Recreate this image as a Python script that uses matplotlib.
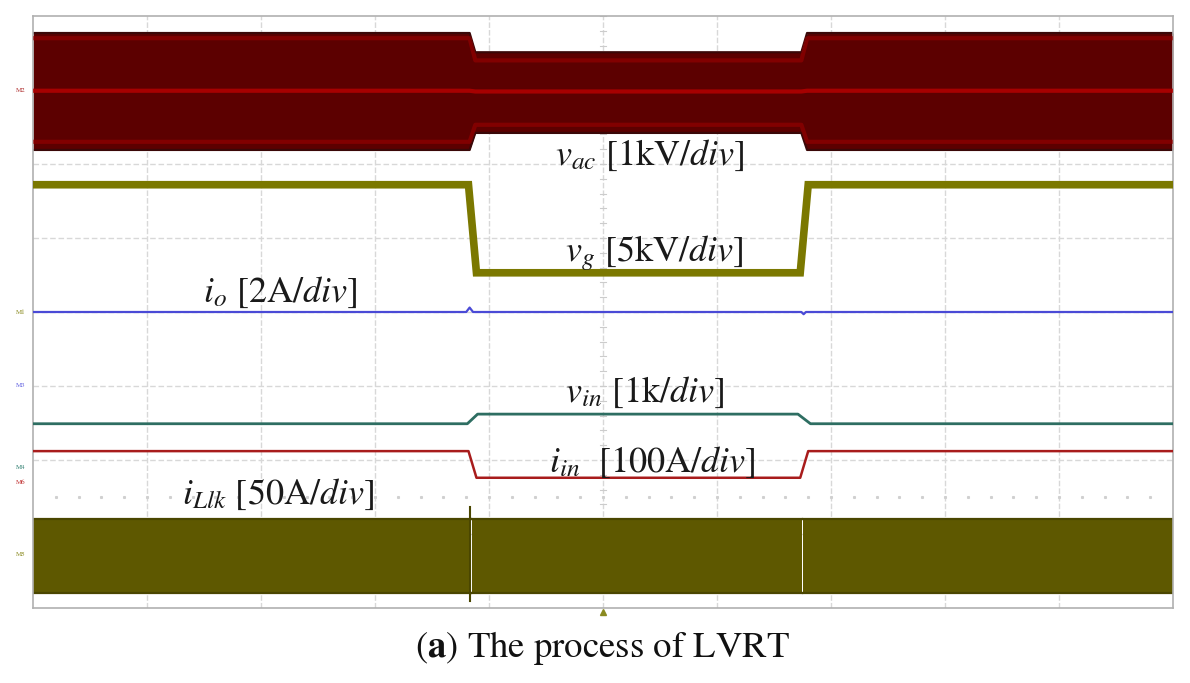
import matplotlib
matplotlib.use("Agg")
import matplotlib.pyplot as plt
import numpy as np

plt.rcParams['mathtext.fontset'] = 'stix'
plt.rcParams['font.family'] = ['STIXGeneral', 'DejaVu Serif']

# ---- data (time in divisions, amplitude in divisions) ----
t_vac = [0, 3.83, 3.88, 6.74, 6.79, 10]
vac_upper = [3.77, 3.77, 3.51, 3.51, 3.77, 3.77]
vac_lower = [2.19, 2.19, 2.42, 2.42, 2.19, 2.19]
vac_center = [2.99, 2.99, 2.98, 2.98, 2.99, 2.99]
vac_inner_top = [3.70, 3.70, 3.40, 3.40, 3.70, 3.70]
vac_inner_bot = [2.30, 2.30, 2.53, 2.53, 2.30, 2.30]

t_vg = [0, 3.82, 3.89, 6.73, 6.80, 10]
vg = [1.72, 1.72, 0.53, 0.53, 1.72, 1.72]

t_io = [0, 3.80, 3.83, 3.86, 6.74, 6.76, 6.78, 10]
io = [0, 0, 0.06, 0, 0, -0.03, 0, 0]

t_vin = [0, 3.81, 3.90, 6.71, 6.82, 10]
vin = [-1.51, -1.51, -1.38, -1.38, -1.51, -1.51]

t_iin = [0, 3.82, 3.89, 6.73, 6.80, 10]
iin = [-1.88, -1.88, -2.24, -2.24, -1.88, -1.88]

t_llk_segments = [(0, 3.845), (3.855, 6.745), (6.755, 10)]
llk_upper = -2.80
llk_lower = -3.80
llk_spike_t = 3.83
llk_spike = (-3.90, -2.64)

labels = [
    (r"$v_{ac}$ [1kV/$div$]", 5.41, 2.12),
    (r"$v_{g}$ [5kV/$div$]", 5.45, 0.80),
    (r"$i_{o}$ [2A/$div$]", 2.17, 0.27),
    (r"$v_{in}$ [1k/$div$]", 5.37, -1.08),
    (r"$i_{in}$  [100A/$div$]", 5.43, -2.03),
    (r"$i_{Llk}$ [50A/$div$]", 2.15, -2.47),
]
channels = [("M2", 2.99, "#b03030"), ("M1", 0.0, "#8a8a20"), ("M3", -0.99, "#6060e0"),
            ("M4", -2.10, "#2f7f70"), ("M6", -2.30, "#c03030"), ("M5", -3.28, "#8a8a20")]

fig = plt.figure(figsize=(11.9, 6.83), dpi=100)
ax = fig.add_axes([33/1190, 1-608/683, (1173-33)/1190, (608-16)/683])
ax.set_xlim(0, 10)
ax.set_ylim(-4, 4)
ax.set_xticks([]); ax.set_yticks([])
for s in ax.spines.values():
    s.set_color("#b0b0b0"); s.set_linewidth(1.2)

# grid
for gx in range(1, 10):
    ax.axvline(gx, color="#d8d8d8", lw=1.0, ls=(0, (4, 1.5)), zorder=0)
for gy in range(-3, 4):
    ax.axhline(gy, color="#d8d8d8", lw=1.0, ls=(0, (4, 2)), zorder=0)
# centre minor ticks
for m in np.arange(-4, 4.01, 0.2):
    ax.plot([4.97, 5.03], [m, m], color="#cccccc", lw=0.8, zorder=0)
# dotted row
ax.plot(np.arange(0.2, 10, 0.2), [-2.5]*49, ls="none", marker="s", ms=1.2, color="#d0d0d0", zorder=0)

# vac
ax.fill_between(t_vac, vac_lower, vac_upper, color="#5c0000", lw=0, zorder=2)
ax.plot(t_vac, vac_upper, color="#3a0808", lw=1.6, zorder=2)
ax.plot(t_vac, vac_lower, color="#3a0808", lw=1.6, zorder=2)
ax.plot(t_vac, vac_center, color="#b40000", lw=3, alpha=0.85, zorder=3)
ax.plot(t_vac, vac_inner_top, color="#9a0000", lw=3, alpha=0.6, zorder=3)
ax.plot(t_vac, vac_inner_bot, color="#9a0000", lw=3, alpha=0.6, zorder=3)

# vg
ax.plot(t_vg, vg, color="#7b7800", lw=5.5, solid_joinstyle="miter", zorder=3)
# io
ax.plot(t_io, io, color="#4a4ad6", lw=1.6, zorder=3)
# vin
ax.plot(t_vin, vin, color="#2e6e62", lw=2.0, zorder=3)
# iin
ax.plot(t_iin, iin, color="#a81c1c", lw=1.8, zorder=3)

# iLlk
for a, b in t_llk_segments:
    ax.fill_between([a, b], [llk_lower]*2, [llk_upper]*2, color="#5e5800", lw=0, zorder=2)
    ax.plot([a, b], [llk_upper]*2, color="#4a4600", lw=1.6, zorder=2)
    ax.plot([a, b], [llk_lower]*2, color="#4a4600", lw=1.6, zorder=2)
ax.plot([llk_spike_t]*2, llk_spike, color="#4a4600", lw=1.5, zorder=3)

# trigger marker
ax.plot([5], [-4.06], marker="^", ms=5, color="#8a8a20", clip_on=False, zorder=5)

for txt, x, y in labels:
    ax.text(x, y, txt, fontsize=26, ha="center", va="center", color="#1a1a1a", zorder=6)

for name, y, c in channels:
    ax.text(-0.11, y, name, fontsize=5, ha="center", va="center", color=c, clip_on=False)

fig.text(602/1190, 1-648/683, r"($\mathbf{a}$) The process of LVRT", fontsize=26.5,
         ha="center", va="center", color="#111111")

fig.savefig("out.png", dpi=100)
